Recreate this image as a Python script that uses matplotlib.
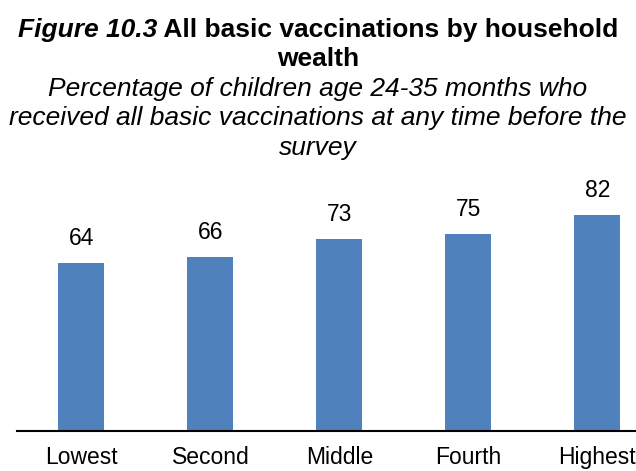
import matplotlib
matplotlib.use("Agg")
import matplotlib.pyplot as plt

categories = ["Lowest", "Second", "Middle", "Fourth", "Highest"]
values = [64, 66, 73, 75, 82]

plt.rcParams['font.family'] = ['Liberation Sans', 'DejaVu Sans']

fig = plt.figure(figsize=(6.36, 4.71), dpi=100)
W, H = 636, 471
# axes in pixel terms: left 17, bottom line at y=431, 0-100 over 263 px
ax = fig.add_axes([17 / W, (H - 431) / H, (W - 17) / W, 263 / H])
x = range(len(categories))
bars = ax.bar(x, values, width=0.357, color='#4F81BD')
ax.set_xlim(-0.5, 4.30)
ax.set_ylim(0, 100)
for b, v in zip(bars, values):
    ax.text(b.get_x() + b.get_width() / 2, v + 5, str(v), ha='center', va='bottom',
            fontsize=16.5)
ax.set_xticks(list(x))
ax.set_xticklabels(categories, fontsize=16.5)
ax.tick_params(axis='x', length=0, pad=11)
ax.set_yticks([])
for s in ['top', 'right', 'left']:
    ax.spines[s].set_visible(False)
ax.spines['bottom'].set_linewidth(1.5)

# title line 1: bold italic part + bold part
fs = 19
t1 = fig.text(0, 1 - 30 / H, "Figure 10.3", fontsize=fs, fontweight='bold',
              fontstyle='italic', va='center')
t2 = fig.text(0, 1 - 30 / H, " All basic vaccinations by household", fontsize=fs,
              fontweight='bold', va='center')
r = fig.canvas.get_renderer()
w1 = t1.get_window_extent(r).width
w2 = t2.get_window_extent(r).width
start = (W - w1 - w2) / 2
t1.set_x(start / W)
t2.set_x((start + w1) / W)
fig.text(0.5, 1 - 59 / H, "wealth", fontsize=fs, fontweight='bold', ha='center',
         va='center')
sub = ["Percentage of children age 24-35 months who",
       "received all basic vaccinations at any time before the",
       "survey"]
for i, line in enumerate(sub):
    fig.text(0.5, 1 - (89 + 29.5 * i) / H, line, fontsize=fs, fontstyle='italic',
             ha='center', va='center')

fig.savefig("out.png", dpi=100)
